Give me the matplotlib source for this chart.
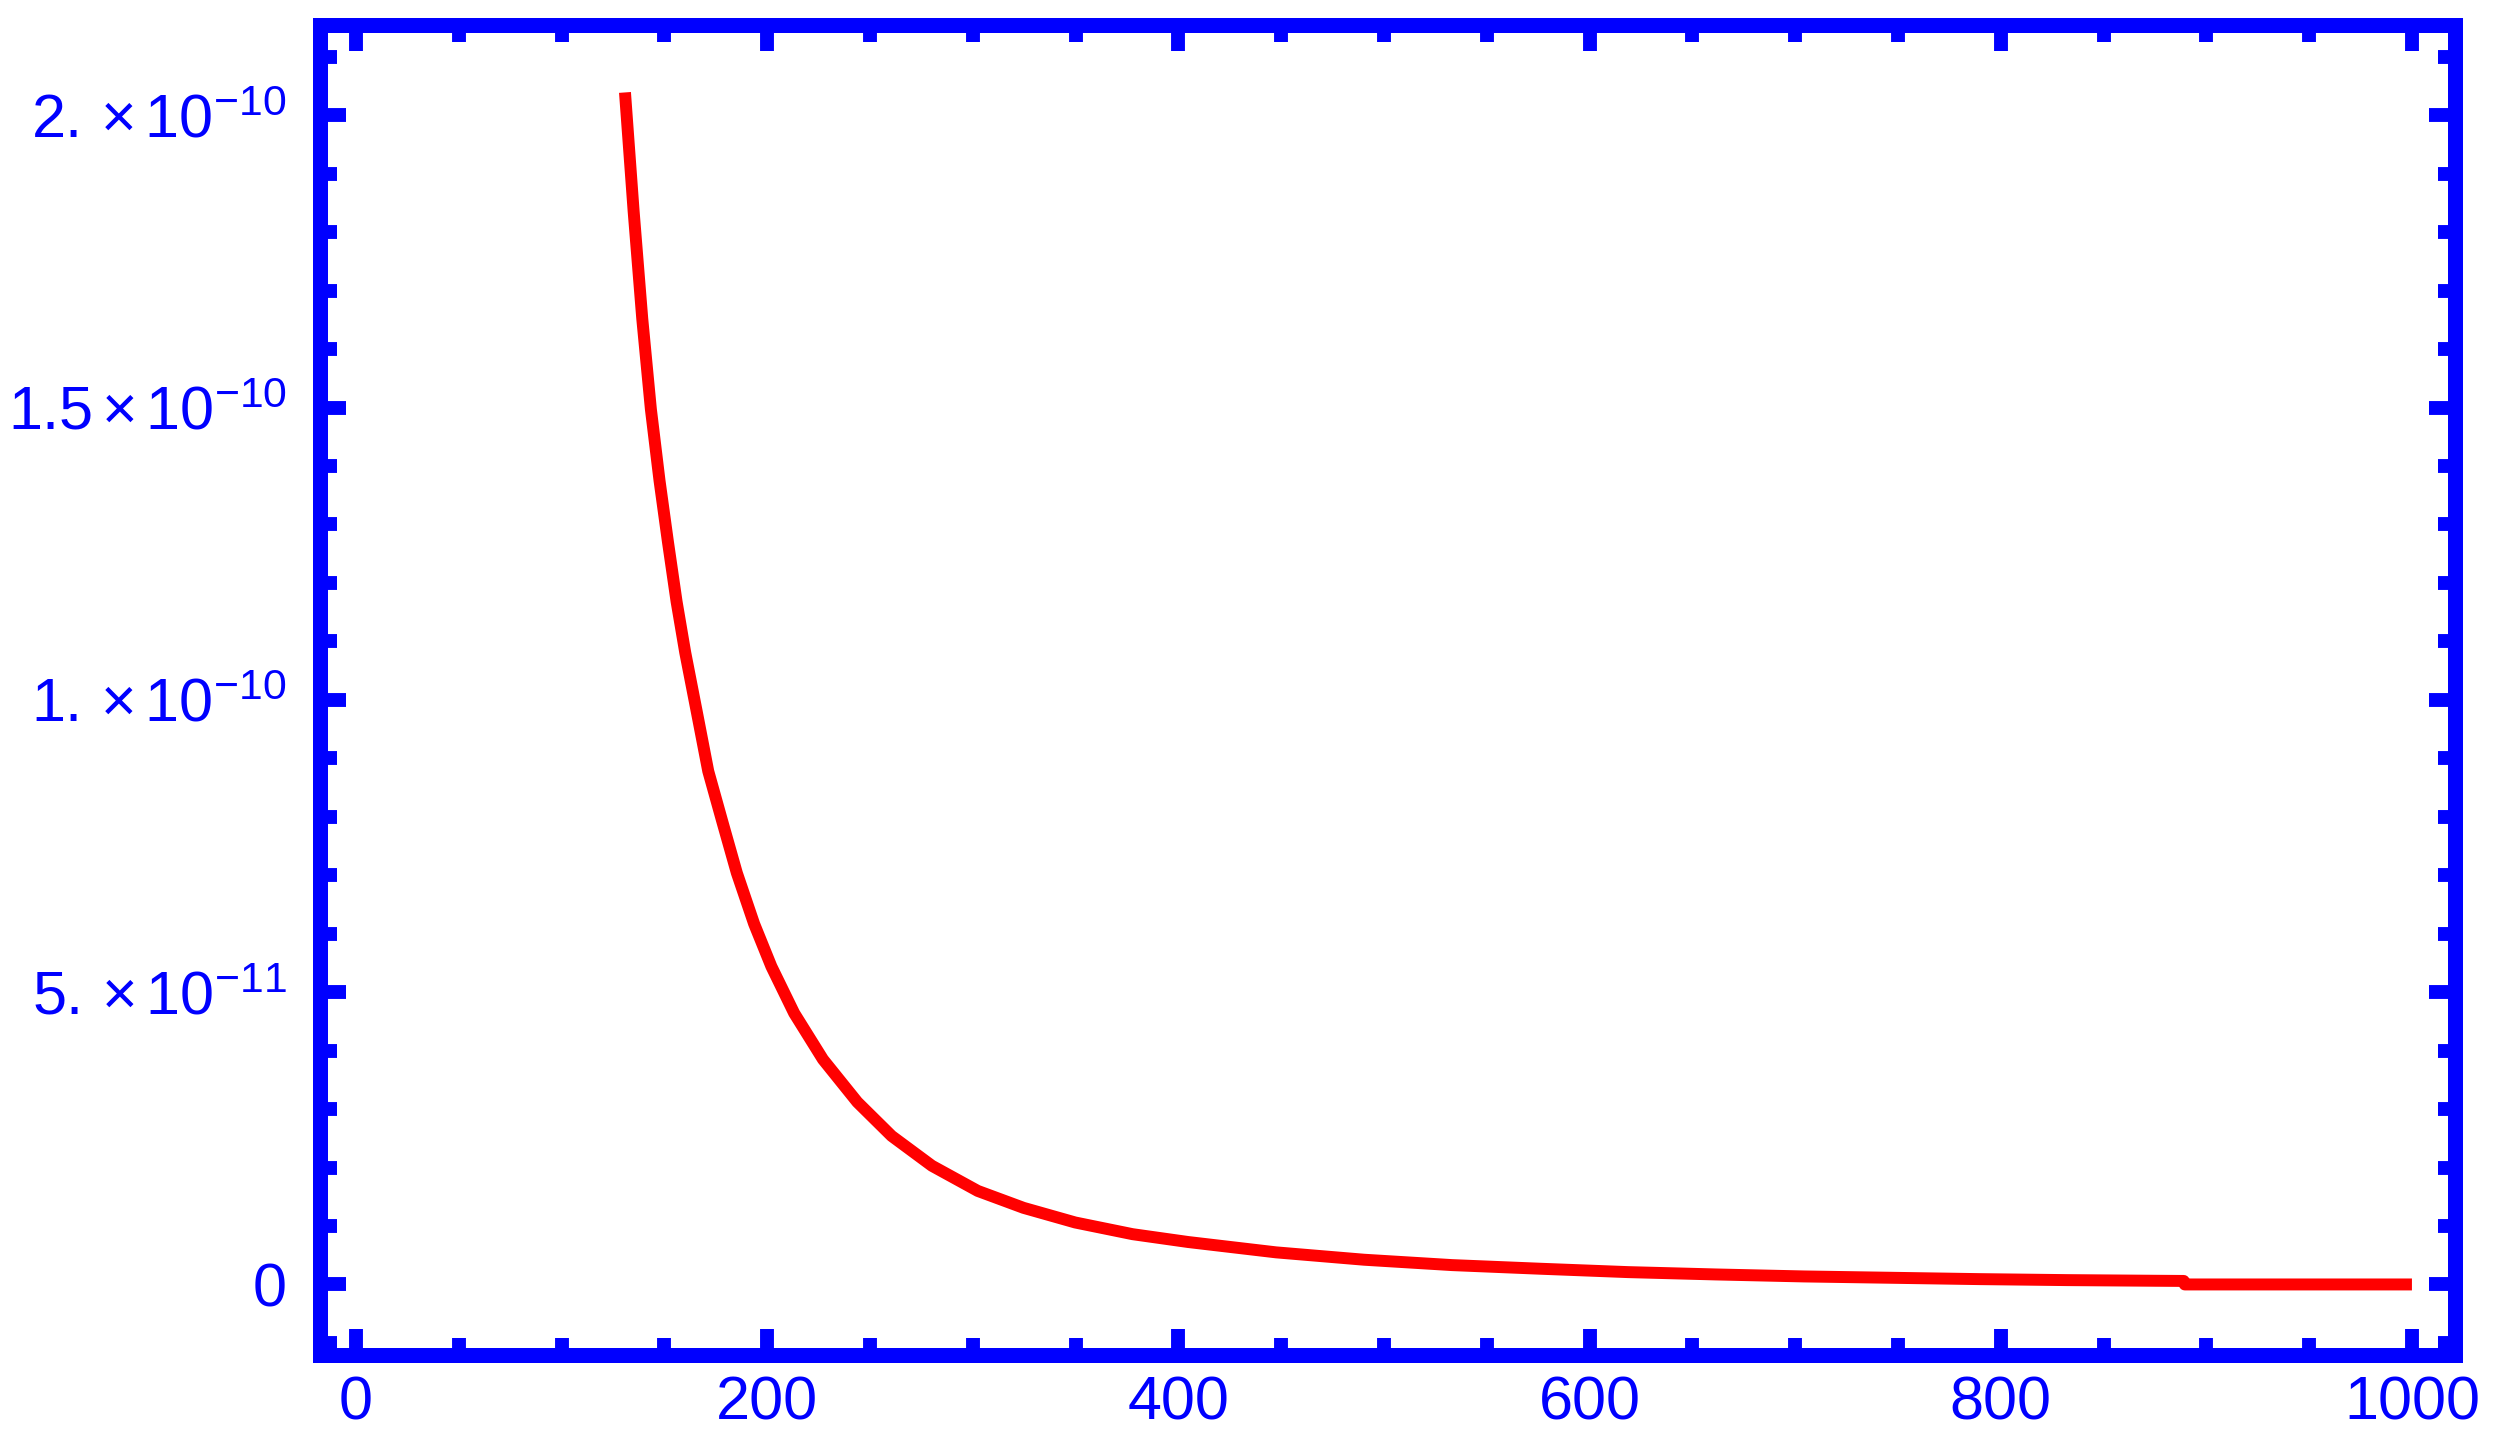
import numpy as np
import matplotlib.pyplot as plt
from matplotlib.ticker import FixedLocator, MultipleLocator

plt.rcParams['font.family'] = ['Liberation Sans', 'DejaVu Sans']
plt.rcParams['mathtext.fontset'] = 'custom'
plt.rcParams['mathtext.rm'] = 'Liberation Sans'
plt.rcParams['mathtext.it'] = 'Liberation Sans:italic'

# valeurs
x_vals = [130.8, 135.0, 139.2, 143.4, 147.6, 151.7, 155.9, 160.1, 165.7, 171.3,
          178.2, 185.2, 193.6, 202.0, 213.1, 227.1, 243.8, 260.5, 280.1, 302.4,
          324.7, 349.8, 377.7, 404.7, 447.5, 490.3, 533.1, 575.9, 618.7, 661.5,
          704.3, 747.1, 789.9, 832.7, 875.5, 889.0, 889.5, 1000.0]
y_vals = [2.039e-10, 1.836e-10, 1.652e-10, 1.497e-10, 1.375e-10, 1.270e-10,
          1.168e-10, 1.081e-10, 9.80e-11, 8.78e-11, 7.91e-11, 7.04e-11,
          6.17e-11, 5.44e-11, 4.64e-11, 3.85e-11, 3.12e-11, 2.54e-11,
          2.03e-11, 1.60e-11, 1.31e-11, 1.06e-11, 8.6e-12, 7.26e-12,
          5.49e-12, 4.23e-12, 3.31e-12, 2.69e-12, 2.11e-12, 1.71e-12,
          1.37e-12, 1.14e-12, 0.91e-12, 0.74e-12, 0.63e-12, 0.60e-12,
          0.0, 0.0]

x_ticks = [0, 200, 400, 600, 800, 1000]
y_ticks = [0, 5e-11, 1e-10, 1.5e-10, 2e-10]
y_tick_labels = ['0',
                 r'$5.\,{\times}\,10^{-11}$',
                 r'$1.\,{\times}\,10^{-10}$',
                 r'$1.5\,{\times}\,10^{-10}$',
                 r'$2.\,{\times}\,10^{-10}$']

blue = '#0000ff'
red = '#ff0000'

fig = plt.figure(figsize=(24.93, 14.48), dpi=100)
ax = fig.add_axes([0.1284, 0.0645, 0.8564, 0.9185])

ax.plot(x_vals, y_vals, color=red, lw=8.6, solid_capstyle='butt',
        solid_joinstyle='round')

ax.set_xlim(-17.5, 1021)
ax.set_ylim(-1.2e-11, 2.155e-10)

ax.xaxis.set_major_locator(FixedLocator(x_ticks))
ax.xaxis.set_minor_locator(MultipleLocator(50))
ax.yaxis.set_major_locator(FixedLocator(y_ticks))
ax.yaxis.set_minor_locator(MultipleLocator(1e-11))
ax.set_xticklabels([str(v) for v in x_ticks])
ax.set_yticklabels(y_tick_labels)

for s in ax.spines.values():
    s.set_color(blue)
    s.set_linewidth(10.8)

ax.tick_params(which='both', direction='in', top=True, right=True,
               color=blue, labelcolor=blue, width=10, labelsize=44)
ax.tick_params(which='major', length=19)
ax.tick_params(which='minor', length=12)
ax.tick_params(axis='x', which='major', pad=15)
ax.tick_params(axis='y', which='major', pad=24)

fig.savefig('out.png', dpi=100)
